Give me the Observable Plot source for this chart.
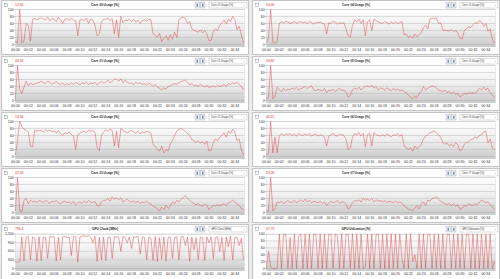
<!DOCTYPE html>
<html><head><meta charset="utf-8">
<script src="https://cdn.jsdelivr.net/npm/d3@7"></script>
<script src="https://cdn.jsdelivr.net/npm/@observablehq/plot@0.6"></script>
<style>
html,body{margin:0;padding:0;background:#ececec;}
#root{position:relative;width:500px;height:279px;overflow:hidden;font-family:"Liberation Sans",Arial,sans-serif;}
.panel{position:absolute;width:248px;height:54px;background:#fff;border:0.5px solid #c4c4c4;box-sizing:border-box;overflow:hidden;}
.panel svg{position:absolute;left:0;top:0;}
</style></head><body>
<svg width="0" height="0" style="position:absolute"><defs>
<linearGradient id="bg" x1="0" y1="0" x2="0" y2="1"><stop offset="0" stop-color="#ffffff"/><stop offset="0.55" stop-color="#ececec"/><stop offset="1" stop-color="#c8c8c8"/></linearGradient>
</defs></svg>
<div id="root"></div>
<script>
// sample interval: 20 s (1/3 minute); values grouped per 2 minutes
const titles = ["Core #0 Usage [%]","Core #4 Usage [%]","Core #1 Usage [%]","Core #5 Usage [%]","Core #2 Usage [%]","Core #6 Usage [%]","Core #3 Usage [%]","Core #7 Usage [%]","GPU Clock [MHz]","GPU Utilization [%]"];
const readings = ["12.90","10.00","44.94","23.82","13.56","40.11","22.20","23.26","796.4","47.75"];
const xTickMinutes = [0,2,4,6,8,10,12,14,16,18,20,22,24,26,28,30,32,34];
const yTicksPct = [0,20,40,60,80,100];
const yTicksMHz = [0,300,600,900,1200];

const core0 = [8,5,100,5,10,60, 55,10,72,75,70,74, 76,72,70,78,68,74, 72,65,78,70,60,72, 74,68,75,70,68,25, 70,72,68,75,60,72, 70,55,25,30,65,72, 72,75,68,74,30,70, 20,80,62,70,68,72, 66,72,64,70,60,68, 70,66,72,70,30,28, 20,32,8,18,25,12, 28,15,35,20,70,76, 78,74,60,65,45,40, 38,35,42,33,40,30, 10,12,38,45,40,55, 62,70,58,72,65,80, 72,42,52,28,5,5];
const core4 = [5,20,100,5,3,8, 60,65,62,66,64,60, 62,66,60,64,65,62, 64,60,66,62,58,63, 62,64,60,58,30,62, 60,66,64,58,62,60, 62,45,25,20,55,70, 65,72,60,70,25,65, 70,40,72,68,64,62, 60,66,62,58,64,60, 64,60,62,66,28,30, 20,25,18,30,22,28, 35,48,55,45,72,75, 74,76,60,62,42,40, 40,38,42,36,40,32, 18,15,40,45,50,48, 55,62,60,68,64,52, 60,38,45,15,5,5];
const core1 = [2,100,30,20,38,55, 42,50,45,48,50,52, 55,50,48,55,52,46, 50,54,48,45,50,44, 48,45,50,46,52,48, 45,50,48,52,46,50, 48,52,44,50,55,50, 52,58,50,55,60,62, 55,62,50,58,52,48, 50,45,52,48,50,46, 48,44,50,45,40,46, 38,35,30,36,32,40, 42,45,48,46,50,54, 56,58,52,45,48,42, 44,40,46,42,38,44, 36,40,42,38,44,40, 42,45,40,48,46,50, 48,52,45,40,30,30];
const core5 = [5,8,100,5,12,38, 30,25,35,28,32,30, 35,32,38,30,34,36, 40,34,38,42,30,28, 32,30,28,34,22,30, 28,32,26,30,35,28, 30,25,10,15,30,35, 32,38,30,36,40,42, 38,44,35,40,30,36, 34,30,36,32,28,34, 30,32,28,30,25,22, 15,10,5,12,8,20, 25,40,30,35,38,42, 40,36,30,28,25,30, 22,25,20,24,18,20, 10,15,20,18,22,20, 22,20,25,35,30,38, 30,35,22,15,10,10];
const core2 = [5,45,100,85,78,75, 70,30,28,75,72,74, 74,70,76,72,75,70, 72,68,74,66,60,68, 65,70,62,58,20,62, 66,70,72,68,75,72, 74,68,25,15,60,70, 76,72,78,74,30,72, 25,80,75,70,68,72, 74,70,66,72,65,70, 68,72,70,66,35,28, 22,15,30,10,20,15, 35,45,60,72,78,80, 76,72,65,60,48,45, 40,45,38,42,35,44, 15,18,40,50,45,55, 60,68,55,72,66,78, 70,45,50,20,5,5];
const core6 = [5,8,100,10,55,10, 58,65,60,64,62,66, 60,64,58,66,62,60, 64,60,66,58,62,64, 58,62,60,55,30,58, 62,66,60,58,64,62, 60,50,20,25,55,65, 62,68,58,66,28,62, 66,30,68,62,60,58, 62,58,64,60,56,62, 60,64,58,62,30,25, 20,25,15,30,22,28, 35,50,58,62,68,70, 72,68,62,55,40,35, 38,30,35,28,40,32, 15,20,35,40,42,48, 50,55,52,60,62,70, 72,40,50,25,20,20];
const core3 = [5,100,5,2,35,40, 25,35,30,32,28,34, 32,28,35,30,26,32, 30,34,28,26,30,32, 28,30,25,32,22,28, 30,26,32,28,34,30, 28,32,20,18,30,34, 35,40,32,45,38,42, 36,42,30,34,38,32, 30,34,28,32,26,30, 28,32,26,24,18,15, 10,5,15,8,20,12, 18,30,25,35,30,38, 42,48,40,35,30,25, 22,25,20,18,24,20, 8,15,20,18,22,20, 22,25,20,28,30,35, 30,25,20,12,8,8];
const core7 = [5,3,100,5,10,30, 28,32,26,30,34,28, 30,34,28,32,36,30, 38,30,34,28,32,30, 28,32,26,30,20,28, 32,28,30,34,26,30, 30,25,10,15,28,34, 32,36,30,40,36,38, 34,40,30,36,32,34, 30,34,28,32,30,28, 32,28,30,26,18,15, 10,8,5,12,20,10, 25,30,20,35,32,40, 42,45,38,32,28,25, 22,26,20,24,18,22, 8,12,20,18,24,22, 20,25,22,30,35,32, 28,30,22,15,10,10];
const gpuClock = [250,220,240,1100,260,1080, 1120,300,1100,1050,250,1110, 280,1100,1080,350,1120,1100, 1110,260,1090,300,1100,1120, 1080,1100,450,1110,1120,220, 1100,1130,1140,1120,1150,1100, 900,1120,250,1090,300,1100, 280,1080,1100,350,1110,1090, 1100,600,1120,1080,900,1100, 700,1110,1090,1120,500,1100, 1080,300,1100,1050,280,1110, 250,1080,320,1100,260,1090, 1100,350,1080,1110,300,1100, 1120,800,1090,250,1100,650, 1080,300,1100,1070,280,1110, 900,1100,350,1080,1110,600, 1090,280,1100,750,1120,300, 1080,1100,800,1050,300,300];
const gpuUtil = [0,50,5,0,0,2, 100,0,100,100,0,90, 0,100,0,95,100,0, 100,0,100,0,100,100, 0,100,0,100,0,100, 100,0,100,95,0,100, 0,100,100,0,100,0, 100,0,100,0,5,100, 0,100,0,100,100,0, 100,0,100,0,100,0, 100,0,100,30,0,100, 0,100,20,40,0,100, 0,100,0,100,100,0, 100,0,100,0,100,0, 100,100,0,100,0,100, 0,100,0,100,100,0, 100,0,100,0,100,0, 100,0,100,0,20,0];

const seriesList = [core0, core4, core1, core5, core2, core6, core3, core7, gpuClock, gpuUtil];

const root = document.getElementById("root");
const fmtX = m => "00:" + String(m).padStart(2, "0");

seriesList.forEach((vals, k) => {
  const col = k % 2, row = Math.floor(k / 2);
  const isMHz = k === 8;
  const yMax = isMHz ? 1200 : 100;
  const ticks = isMHz ? yTicksMHz : yTicksPct;
  const data = vals.map((v, i) => ({t: i / 3, v}));

  const panel = document.createElement("div");
  panel.className = "panel";
  panel.style.left = (col * 251 + 0.5) + "px";
  panel.style.top = (row * 56) + "px";
  panel.style.height = (row === 4 ? 56 : 55) + "px";
  root.appendChild(panel);

  const chart = Plot.plot({
    width: 248, height: 54,
    marginTop: 8 + (row === 4 ? 0.7 : 0), marginBottom: 8.2, marginLeft: 13, marginRight: 4,
    style: {fontSize: "3.6px", fontFamily: "Liberation Sans, Arial, sans-serif", color: "#333", background: "transparent", overflow: "visible"},
    x: {domain: [0, 35.5], label: null},
    y: {domain: [-0.07 * yMax, yMax], label: null},
    marks: [
      Plot.frame({fill: "url(#bg)", stroke: "#d0d0d0", strokeWidth: 0.4}),
      Plot.gridY(ticks, {stroke: "#b4b4b4", strokeOpacity: 1, strokeWidth: 0.45}),
      Plot.line(data, {x: "t", y: "v", stroke: "#e03a3e", strokeWidth: 0.45, clip: true}),
      Plot.axisX(xTickMinutes, {tickFormat: fmtX, tickSize: 0, tickPadding: 1.6, fill: "#333"}),
      Plot.axisY(ticks, {tickSize: 1, tickPadding: 0.6, stroke: "#666", strokeWidth: 0.4, fill: "#333"})
    ]
  });
  panel.appendChild(chart);

  const h = d3.create("svg").attr("width", 248).attr("height", 8)
    .style("font-family", "Liberation Sans, Arial, sans-serif");
  h.append("rect").attr("x", 2.5).attr("y", 2.2).attr("width", 3).attr("height", 3.4)
    .attr("fill", "none").attr("stroke", "#777").attr("stroke-width", 0.4);
  h.append("text").attr("x", 13).attr("y", 5.3).attr("fill", "#d42a2a").attr("font-size", 3.4).text(readings[k]);
  h.append("text").attr("x", 103).attr("y", 5.3).attr("text-anchor", "middle").attr("font-weight", "bold")
    .attr("font-size", 3.2).attr("fill", "#222").text(titles[k]);
  [193, 198.5].forEach(bx => {
    h.append("rect").attr("x", bx).attr("y", 1.5).attr("width", 4.5).attr("height", 5.5)
      .attr("fill", "#eef1f6").attr("stroke", "#9aa3b0").attr("stroke-width", 0.4);
    h.append("rect").attr("x", bx + 1.5).attr("y", 2.7).attr("width", 1.5).attr("height", 3)
      .attr("fill", "#7d8fb0");
  });
  h.append("rect").attr("x", 207).attr("y", 1.5).attr("width", 38).attr("height", 5.5)
    .attr("fill", "#fff").attr("stroke", "#aaa").attr("stroke-width", 0.4);
  h.append("text").attr("x", 209).attr("y", 5.1).attr("font-size", 2.6).attr("fill", "#333").text(titles[k]);
  h.append("text").attr("x", 241).attr("y", 5.1).attr("font-size", 2.6).attr("fill", "#555").text("⌄");
  panel.appendChild(h.node());
});
</script>
</body></html>
